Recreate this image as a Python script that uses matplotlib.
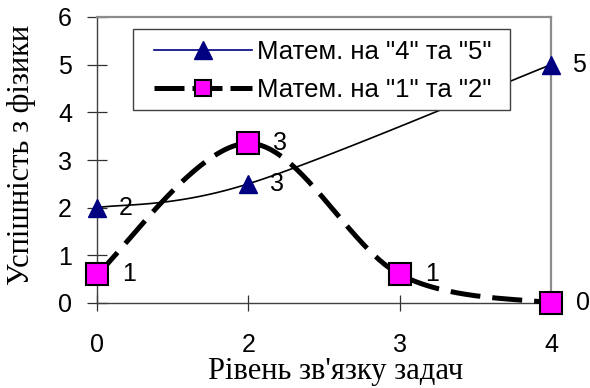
import numpy as np
import matplotlib
matplotlib.use("Agg")
import matplotlib.pyplot as plt
from matplotlib.lines import Line2D
from matplotlib.patches import Rectangle

# Категорії осі X та значення рядів
categories = ["0", "2", "3", "4"]
good_math = [2.0, 2.5, np.nan, 5.0]    # Матем. на "4" та "5" (для рівня 3 даних немає)
poor_math = [0.6, 3.35, 0.6, 0.0]      # Матем. на "1" та "2"
series_names = ['Матем. на "4" та "5"', 'Матем. на "1" та "2"']
y_ticks = [0, 1, 2, 3, 4, 5, 6]

SANS = ["Liberation Sans", "DejaVu Sans"]
SERIF = ["Liberation Serif", "DejaVu Serif"]

NAVY = "#000080"
MAGENTA = "#ff00ff"


def smooth_curve(xs, ys, n=60):
    """Згладжена лінія через точки (кубічні криві Безьє, як у табличних редакторах)."""
    pts = np.array([(x, y) for x, y in zip(xs, ys) if not np.isnan(y)], float)
    out = [pts[0]]
    t = np.linspace(0, 1, n)[1:, None]
    for i in range(len(pts) - 1):
        p0 = pts[i - 1] if i > 0 else pts[i]
        p1, p2 = pts[i], pts[i + 1]
        p3 = pts[i + 2] if i + 2 < len(pts) else pts[i + 1]
        c1 = p1 + (p2 - p0) / 6.0
        c2 = p2 - (p3 - p1) / 6.0
        seg = (1 - t) ** 3 * p1 + 3 * (1 - t) ** 2 * t * c1 + 3 * (1 - t) * t ** 2 * c2 + t ** 3 * p2
        out.extend(seg)
    out = np.array(out)
    return out[:, 0], out[:, 1]


def label_text(v):
    # формат "0": ціле число з округленням половини вгору
    return str(int(np.floor(v + 0.5)))


W, H = 590, 388
fig = plt.figure(figsize=(W / 100, H / 100), dpi=100)
fig.patch.set_facecolor("white")
ax = fig.add_axes([97 / W, 1 - 303 / H, (551 - 97) / W, (303 - 17) / H])

x = np.arange(len(categories))
FS = 18

# Ряд 2: товста штрихова лінія з пурпуровими квадратами
sx, sy = smooth_curve(x, poor_math)
ax.plot(sx, sy, color="black", lw=3.6, dashes=(6.0, 2.4), solid_capstyle="butt",
        clip_on=False, zorder=3)
ax.plot(x, poor_math, ls="none", marker="s", markersize=15.5, markerfacecolor=MAGENTA,
        markeredgecolor="black", markeredgewidth=1.5, clip_on=False, zorder=5)

# Ряд 1: тонка лінія з трикутниками
gx, gy = smooth_curve(x, good_math)
ax.plot(gx, gy, color="black", lw=1.2, clip_on=False, zorder=4)
ax.plot(x, good_math, ls="none", marker="^", markersize=12.5, markerfacecolor=NAVY,
        markeredgecolor=NAVY, clip_on=False, zorder=6)

# Підписи значень
for xi, v in zip(x, good_math):
    if not np.isnan(v):
        ax.annotate(label_text(v), (xi, v), xytext=(15.5, 0), textcoords="offset points",
                    ha="left", va="center", fontsize=FS, family=SANS, annotation_clip=False)
for xi, v in zip(x, poor_math):
    ax.annotate(label_text(v), (xi, v), xytext=(18, 0), textcoords="offset points",
                ha="left", va="center", fontsize=FS, family=SANS, annotation_clip=False)

ax.set_xlim(0, len(categories) - 1)
ax.set_ylim(y_ticks[0], y_ticks[-1])
ax.set_xticks(x)
ax.set_xticklabels(categories)
ax.set_yticks(y_ticks)
ax.set_yticklabels([str(t) for t in y_ticks])
for lab in ax.get_xticklabels() + ax.get_yticklabels():
    lab.set_family(SANS)

ax.tick_params(axis="y", direction="inout", length=14, width=0.9, pad=11,
               labelsize=FS, color="#303030")
ax.tick_params(axis="x", direction="inout", length=11.5, width=0.9, pad=16,
               labelsize=FS, color="#303030")

for side in ("left", "bottom"):
    ax.spines[side].set_color("#404040")
    ax.spines[side].set_linewidth(1.0)
for side in ("top", "right"):
    ax.spines[side].set_color("#8c8c8c")
    ax.spines[side].set_linewidth(1.6)
ax.set_facecolor("white")

# Легенда: рамка окремим прямокутником, вміст — без рамки
ax.add_patch(Rectangle((133 / W, 1 - 110 / H), (510 - 133) / W, (110 - 29) / H,
                       transform=fig.transFigure, facecolor="white", edgecolor="#404040",
                       linewidth=1.0, clip_on=False, zorder=9))
handles = [
    Line2D([], [], color=NAVY, lw=1.2, marker="^", markersize=12.5,
           markerfacecolor=NAVY, markeredgecolor=NAVY),
    Line2D([], [], color="black", lw=3.6, dashes=(6.0, 1.6), marker="s", markersize=12,
           markerfacecolor=MAGENTA, markeredgecolor="black", markeredgewidth=1.5),
]
leg = ax.legend(handles, series_names, loc="upper left",
                bbox_to_anchor=(154 / W, 1 - 40 / H), bbox_transform=fig.transFigure,
                borderaxespad=0, prop={"family": SANS, "size": 18.5},
                handlelength=3.8, handletextpad=0.2, borderpad=0, labelspacing=0.55,
                frameon=False)
leg.set_zorder(10)

# Назви осей
fig.text(336 / W, 1 - 372 / H, "Рівень зв'язку задач", ha="center", va="center",
         fontsize=22, family=SERIF)
fig.text(22 / W, 1 - 155 / H, "Успішність з фізики", ha="center", va="center",
         rotation=90, fontsize=22, family=SERIF)

fig.savefig("out.png", dpi=100, facecolor="white")
